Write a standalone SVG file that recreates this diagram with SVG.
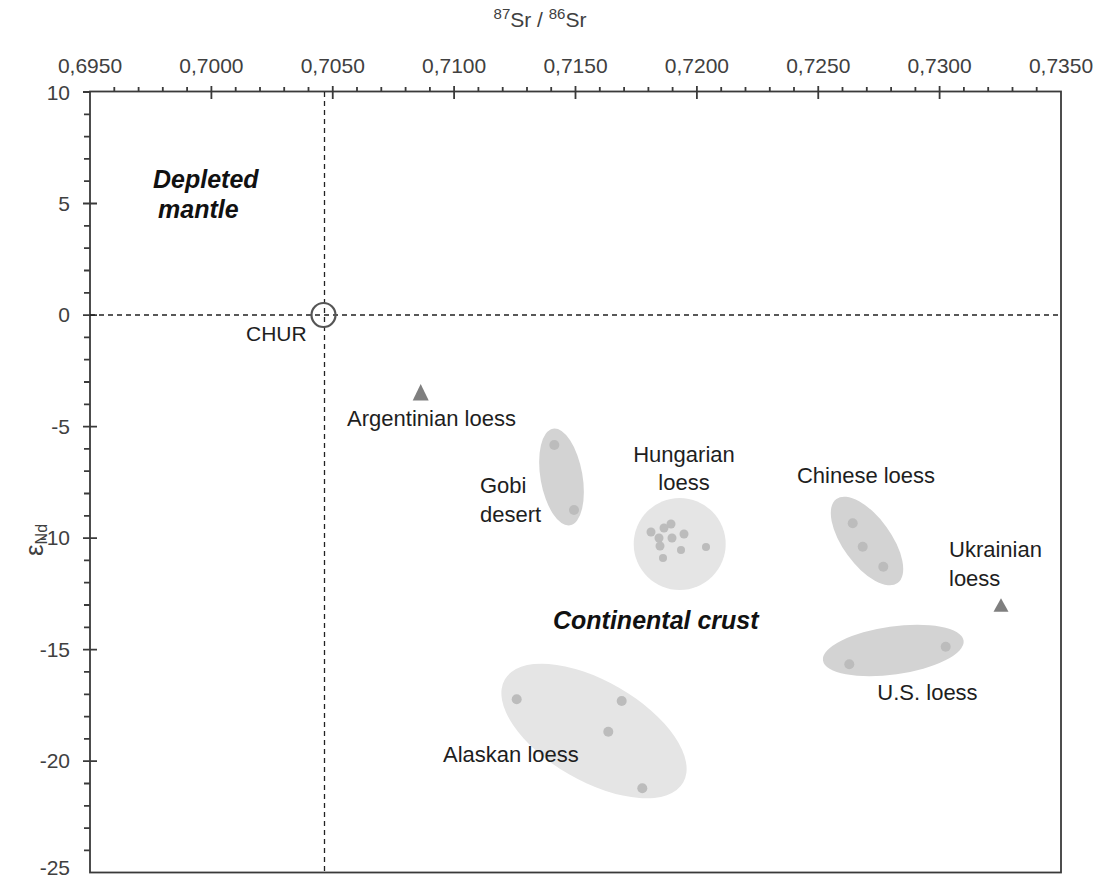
<svg xmlns="http://www.w3.org/2000/svg" width="1098" height="879" viewBox="0 0 1098 879">
<style>
.tick{font-family:"Liberation Sans",Arial,sans-serif;font-size:21px;fill:#404040}
.lab{font-family:"Liberation Sans",Arial,sans-serif;font-size:22px;fill:#1e1e1e}
.bi{font-family:"Liberation Sans",Arial,sans-serif;font-size:25px;font-weight:bold;font-style:italic;fill:#111}
.dark{fill:#d3d3d3}
.light{fill:#e5e5e5}
.dot{fill:#bcbcbc}
.tri{fill:#7f7f7f}
.axis{fill:none;stroke:#3a3a3a;stroke-width:1.8}
.dash{fill:none;stroke:#222;stroke-width:1.3;stroke-dasharray:5 4}
</style>
<rect width="1098" height="879" fill="#fff"/>
<g id="axes">
<rect class="axis" x="90" y="91.5" width="971" height="781"/>
<path class="axis" stroke-width="1.4" d="M211.4,86V99M332.75,86V99M454.1,86V99M575.5,86V99M696.9,86V99M818.25,86V99M939.6,86V99
M114.3,87V91.5M138.6,87V91.5M162.8,87V91.5M187.1,87V91.5M235.7,87V91.5M260,87V91.5M284.2,87V91.5M308.5,87V91.5M357,87V91.5M381.3,87V91.5M405.6,87V91.5M429.9,87V91.5M478.4,87V91.5M502.7,87V91.5M527,87V91.5M551.2,87V91.5M599.8,87V91.5M624.1,87V91.5M648.4,87V91.5M672.6,87V91.5M721.2,87V91.5M745.5,87V91.5M769.8,87V91.5M794,87V91.5M842.5,87V91.5M866.8,87V91.5M891.1,87V91.5M915.4,87V91.5M963.9,87V91.5M988.2,87V91.5M1012.5,87V91.5M1036.7,87V91.5
M83,92H90M83,203.5H97M83,315.1H97M83,426.6H97M83,538.1H97M83,649.6H97M83,761.2H97
M84,114.3H90M84,136.6H90M84,158.9H90M84,181.2H90M84,225.8H90M84,248.1H90M84,270.5H90M84,292.8H90M84,337.4H90M84,359.7H90M84,382H90M84,404.3H90M84,448.9H90M84,471.2H90M84,493.5H90M84,515.8H90M84,560.4H90M84,582.7H90M84,605H90M84,627.3H90M84,671.9H90M84,694.3H90M84,716.6H90M84,738.9H90M84,783.5H90M84,805.8H90M84,828.1H90M84,850.4H90"/>
<g class="tick" text-anchor="middle">
<text x="90" y="73">0,6950</text>
<text x="211.4" y="73">0,7000</text>
<text x="332.75" y="73">0,7050</text>
<text x="454.1" y="73">0,7100</text>
<text x="575.5" y="73">0,7150</text>
<text x="696.9" y="73">0,7200</text>
<text x="818.25" y="73">0,7250</text>
<text x="939.6" y="73">0,7300</text>
<text x="1061" y="73">0,7350</text>
</g>
<g class="tick" text-anchor="end">
<text x="70" y="100">10</text>
<text x="70" y="211">5</text>
<text x="70" y="322">0</text>
<text x="70" y="434">-5</text>
<text x="70" y="545">-10</text>
<text x="70" y="657">-15</text>
<text x="70" y="768">-20</text>
<text x="70" y="875">-25</text>
</g>
<text class="tick" x="540" y="27" text-anchor="middle"><tspan style="font-size:15px" dy="-8">87</tspan><tspan dy="8">Sr / </tspan><tspan style="font-size:15px" dy="-8">86</tspan><tspan dy="8">Sr</tspan></text>
<text class="tick" transform="translate(43,540) rotate(-90)" text-anchor="middle" style="font-size:26px">ε<tspan style="font-size:16px" dy="4">Nd</tspan></text>
</g>
<g id="connectors">
<path class="dash" d="M90,315H1061"/>
<path class="dash" d="M324.5,92V872"/>
</g>
<g id="chur">
<circle cx="323.5" cy="315" r="12" fill="none" stroke="#555" stroke-width="2.2"/>
<text class="lab" x="246" y="341" style="font-size:21px">CHUR</text>
</g>
<g id="depleted-mantle">
<text class="bi" x="153" y="188">Depleted</text>
<text class="bi" x="158" y="218">mantle</text>
</g>
<g id="continental-crust">
<text class="bi" x="553" y="629">Continental crust</text>
</g>
<g id="argentinian">
<path class="tri" d="M420.7,384L428.7,400.5H412.7Z"/>
<text class="lab" x="431.5" y="426" text-anchor="middle">Argentinian loess</text>
</g>
<g id="gobi">
<ellipse class="dark" cx="561.5" cy="477" rx="21" ry="49" transform="rotate(-10 561.5 477)"/>
<circle class="dot" cx="554.3" cy="445" r="5"/>
<circle class="dot" cx="574" cy="510" r="5"/>
<text class="lab" x="480" y="493">Gobi</text>
<text class="lab" x="480" y="521.5">desert</text>
</g>
<g id="hungarian">
<circle class="light" cx="679.7" cy="544" r="46"/>
<g class="dot">
<circle cx="651" cy="532" r="4.5"/><circle cx="659" cy="538" r="4.5"/><circle cx="664" cy="528" r="4.5"/><circle cx="671" cy="524" r="4.5"/>
<circle cx="672" cy="538" r="4.5"/><circle cx="660" cy="546" r="4.5"/><circle cx="684" cy="534" r="4.5"/><circle cx="681" cy="550" r="4"/>
<circle cx="663" cy="558" r="4"/><circle cx="706" cy="547" r="4"/>
</g>
<text class="lab" x="684" y="461.5" text-anchor="middle">Hungarian</text>
<text class="lab" x="684" y="490" text-anchor="middle">loess</text>
</g>
<g id="chinese">
<ellipse class="dark" cx="867" cy="541" rx="24" ry="52" transform="rotate(-36 867 541)"/>
<circle class="dot" cx="852.7" cy="523.3" r="5"/>
<circle class="dot" cx="862.7" cy="546.7" r="5"/>
<circle class="dot" cx="883.3" cy="566.7" r="5"/>
<text class="lab" x="866" y="483" text-anchor="middle">Chinese loess</text>
</g>
<g id="ukrainian">
<path class="tri" d="M1001,598.3L1008.5,611.7H993.5Z"/>
<text class="lab" x="949" y="557">Ukrainian</text>
<text class="lab" x="949" y="586">loess</text>
</g>
<g id="us">
<ellipse class="dark" cx="893.3" cy="650.5" rx="71" ry="24" transform="rotate(-8 893.3 650.5)"/>
<circle class="dot" cx="849.3" cy="664.3" r="5"/>
<circle class="dot" cx="945.7" cy="646.7" r="5"/>
<text class="lab" x="927.5" y="700" text-anchor="middle">U.S. loess</text>
</g>
<g id="alaskan">
<ellipse class="light" cx="594" cy="731" rx="103" ry="50" transform="rotate(30 594 731)"/>
<circle class="dot" cx="516.7" cy="699.3" r="5"/>
<circle class="dot" cx="621.7" cy="701" r="5"/>
<circle class="dot" cx="608.3" cy="731.7" r="5"/>
<circle class="dot" cx="642.3" cy="788.3" r="5"/>
<text class="lab" x="443" y="762">Alaskan loess</text>
</g>
</svg>
